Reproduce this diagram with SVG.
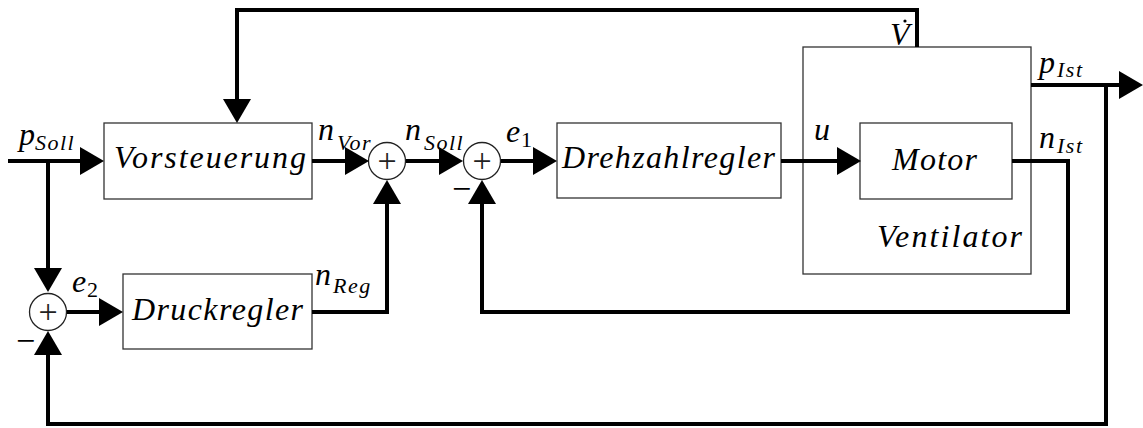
<svg xmlns="http://www.w3.org/2000/svg" width="1143" height="428" viewBox="0 0 1143 428">
<style>
.box{fill:#fff;stroke:#333;stroke-width:1.3}
.vbox{fill:none;stroke:#333;stroke-width:1.3}
.sum{fill:#fff;stroke:#222;stroke-width:1.3}
.w{fill:none;stroke:#000;stroke-width:4;stroke-linejoin:miter;stroke-linecap:butt}
.t{font-family:'Liberation Serif',serif;font-style:italic;font-size:32px;fill:#000}
.s{font-size:22px;letter-spacing:1.5px}
.n{font-style:normal;letter-spacing:0}
.p{font-family:'Liberation Serif',serif;font-size:34px;fill:#222;text-anchor:middle}
.m{font-family:'Liberation Serif',serif;font-size:34px;fill:#000}
</style>
<defs>
<marker id="ah" markerUnits="userSpaceOnUse" viewBox="0 0 24 28" markerWidth="24" markerHeight="28" refX="1" refY="14" orient="auto">
<path d="M0,0 L24,14 L0,28 z" fill="#000"/>
</marker>
</defs>
<g id="vorsteuerung">
<rect class="box" x="104" y="123" width="208" height="76"/>
<text class="t" x="114" y="168" textLength="192" lengthAdjust="spacing">Vorsteuerung</text>
</g>
<g id="druckregler">
<rect class="box" x="123" y="274" width="189" height="75"/>
<text class="t" x="132" y="320" textLength="171" lengthAdjust="spacing">Druckregler</text>
</g>
<g id="drehzahlregler">
<rect class="box" x="557" y="123" width="224" height="75"/>
<text class="t" x="562" y="168" textLength="213" lengthAdjust="spacing">Drehzahlregler</text>
</g>
<g id="ventilator">
<rect class="vbox" x="803" y="47" width="228" height="227"/>
<text class="t" x="877" y="247" textLength="145" lengthAdjust="spacing">Ventilator</text>
</g>
<g id="motor">
<rect class="box" x="860" y="123" width="152" height="76"/>
<text class="t" x="892" y="170" textLength="85" lengthAdjust="spacing">Motor</text>
</g>
<g id="sum1">
<circle class="sum" cx="387" cy="161" r="18.5"/>
<text class="p" x="387" y="172">+</text>
</g>
<g id="sum2">
<circle class="sum" cx="482" cy="161" r="18.5"/>
<text class="p" x="482" y="172">+</text>
<text class="m" x="452" y="200">−</text>
</g>
<g id="sum3">
<circle class="sum" cx="48" cy="312" r="18.5"/>
<text class="p" x="48" y="323">+</text>
<text class="m" x="16" y="352">−</text>
</g>
<g id="connectors">
<path class="w" d="M8,161 H81" marker-end="url(#ah)"/>
<path class="w" d="M48,161 V269" marker-end="url(#ah)"/>
<path class="w" d="M312,161 H346" marker-end="url(#ah)"/>
<path class="w" d="M406,161 H440" marker-end="url(#ah)"/>
<path class="w" d="M501,161 H534" marker-end="url(#ah)"/>
<path class="w" d="M781,161 H838" marker-end="url(#ah)"/>
<path class="w" d="M1012,161 H1068 V312 H482 V203" marker-end="url(#ah)"/>
<path class="w" d="M917,47 V10 H237 V100" marker-end="url(#ah)"/>
<path class="w" d="M1031,85 H1120" marker-end="url(#ah)"/>
<path class="w" d="M1106,85 V424 H48 V354" marker-end="url(#ah)"/>
<path class="w" d="M67,312 H100" marker-end="url(#ah)"/>
<path class="w" d="M312,312 H387 V203" marker-end="url(#ah)"/>
</g>
<g id="labels">
<text class="t" x="19" y="145">p<tspan class="s" x="35" y="150">Soll</tspan></text>
<text class="t" x="318" y="140">n<tspan class="s" x="337" y="150">Vor</tspan></text>
<text class="t" x="405" y="140">n<tspan class="s" x="424" y="150">Soll</tspan></text>
<text class="t" x="506" y="142">e<tspan class="s n" x="521" y="147">1</tspan></text>
<text class="t" x="315" y="285">n<tspan class="s" x="333" y="293">Reg</tspan></text>
<text class="t" x="72" y="292">e<tspan class="s n" x="87" y="297">2</tspan></text>
<text class="t" x="814" y="140">u</text>
<text class="t" x="890" y="45">V</text>
<circle cx="905" cy="21" r="1.6" fill="#000"/>
<text class="t" x="1039" y="73">p<tspan class="s" x="1057" y="77">Ist</tspan></text>
<text class="t" x="1039" y="148">n<tspan class="s" x="1057" y="153">Ist</tspan></text>
</g>
</svg>
